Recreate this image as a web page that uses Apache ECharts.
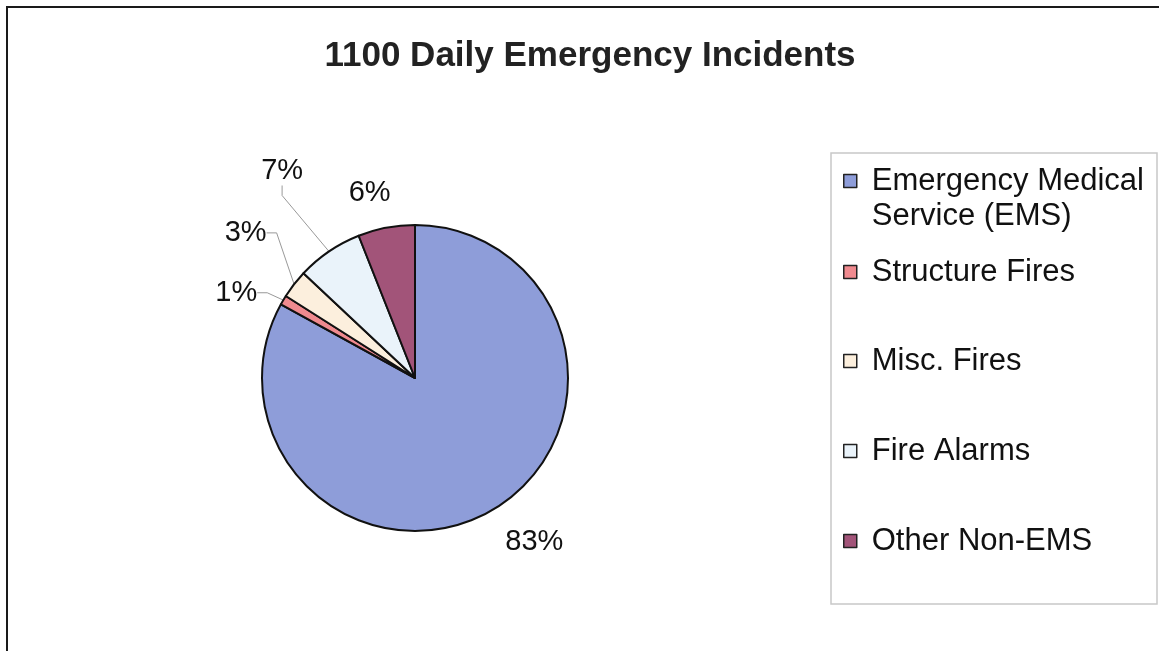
<!DOCTYPE html>
<html>
<head>
<meta charset="utf-8">
<script src="https://cdn.jsdelivr.net/npm/echarts@6/dist/echarts.min.js"></script>
<style>
html,body{margin:0;padding:0;background:#fff;}
#chart{width:1159px;height:651px;}
</style>
</head>
<body>
<div id="chart"></div>
<script>
const titleText = '1100 Daily Emergency Incidents';
const categories = ['Emergency Medical Service (EMS)', 'Structure Fires', 'Misc. Fires', 'Fire Alarms', 'Other Non-EMS'];
const legendLabels = [['Emergency Medical', 'Service (EMS)'], ['Structure Fires'], ['Misc. Fires'], ['Fire Alarms'], ['Other Non-EMS']];
const values = [83, 1, 3, 7, 6];
const colors = ['#8E9DD9', '#F08A8F', '#FCEFDD', '#EAF3FA', '#A25479'];
// label placement style: distance of label centre beyond the pie edge, and angular nudge (deg)
const labelGap = [50, 45, 70, 93, 37];
const labelAngleShift = [-5.4, -5.1, 2.8, 1.5, -3.0];
const showLeader = [false, true, true, true, false];

const chart = echarts.init(document.getElementById('chart'));
const font = "'Liberation Sans', Arial, sans-serif";

const data = categories.map((c, i) => ({
  name: c,
  value: values[i],
  itemStyle: {color: colors[i]},
  labelLine: {show: showLeader[i], length: 10, length2: 10}
}));

const legendCenters = [181, 272, 361, 451, 541];
const legends = categories.map((c, i) => {
  const lines = legendLabels[i];
  const txt = (lines.length > 1 ? '{s| }\n' : '') + lines.map(l => '{s|}' + l).join('\n');
  const nLines = lines.length > 1 ? lines.length + 1 : 1;
  const h = 35 * nLines;
  return {
    data: [c],
    left: 838,
    top: legendCenters[i] - h / 2 - 5,
    orient: 'vertical',
    itemWidth: 13,
    itemHeight: 13,
    icon: 'rect',
    selectedMode: false,
    itemStyle: {borderColor: '#222', borderWidth: 1.5},
    formatter: () => txt,
    textStyle: {
      fontFamily: font, fontSize: 31, color: '#111', lineHeight: 35,
      rich: {s: {width: 10, fontSize: 31, lineHeight: 35}}
    }
  };
});

chart.setOption({
  animation: false,
  backgroundColor: '#fff',
  title: {
    text: titleText,
    left: 585,
    textAlign: 'center',
    top: 34,
    textStyle: {fontFamily: font, fontSize: 35, fontWeight: 'bold', color: '#222'}
  },
  legend: legends,
  graphic: [
    {type: 'rect', shape: {x: 7, y: 7, width: 1200, height: 700}, style: {fill: 'none', stroke: '#1a1a1a', lineWidth: 2}, silent: true},
    {type: 'rect', shape: {x: 831, y: 153, width: 326, height: 451}, style: {fill: 'none', stroke: '#c8c8c8', lineWidth: 1.5}, silent: true}
  ],
  series: [{
    type: 'pie',
    center: [415, 378],
    radius: 153,
    startAngle: 90,
    clockwise: true,
    avoidLabelOverlap: false,
    data: data,
    itemStyle: {borderColor: '#111', borderWidth: 2},
    label: {
      show: true,
      position: 'outside',
      formatter: '{d}%',
      fontFamily: font,
      fontSize: 29,
      color: '#111'
    },
    labelLine: {lineStyle: {color: '#999', width: 1}, smooth: false},
    labelLayout: function (params) {
      const i = params.dataIndex;
      let lay = null;
      try { lay = chart.getModel().getSeriesByIndex(0).getData().getItemLayout(i); } catch (e) {}
      if (!lay) return {};
      const mid = (lay.startAngle + lay.endAngle) / 2 + labelAngleShift[i] * Math.PI / 180;
      const R = lay.r + labelGap[i];
      return {
        x: lay.cx + R * Math.cos(mid),
        y: lay.cy + R * Math.sin(mid),
        align: 'center',
        verticalAlign: 'middle'
      };
    }
  }]
});
</script>
</body>
</html>
